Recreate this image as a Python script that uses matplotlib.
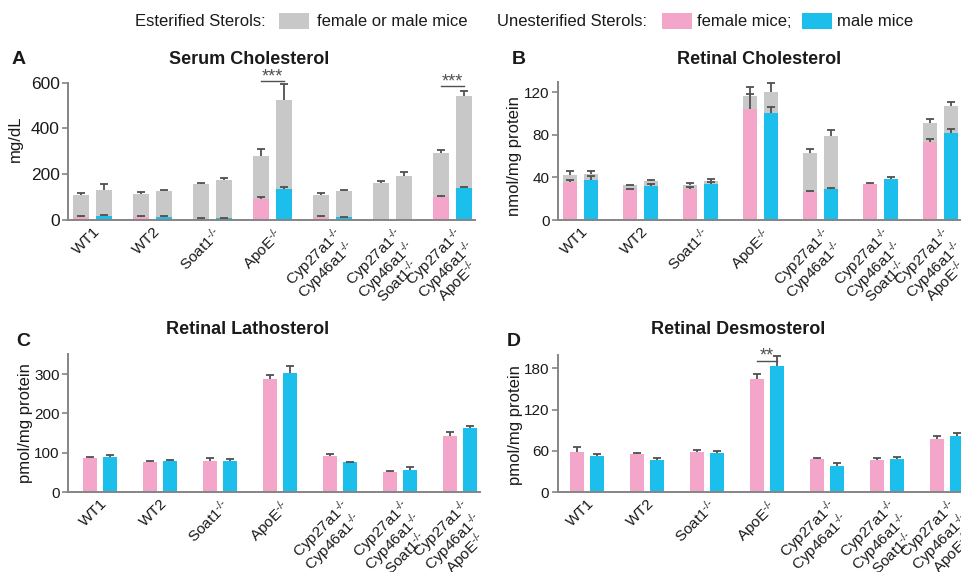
import matplotlib.pyplot as plt
from matplotlib.patches import Rectangle
from matplotlib.transforms import ScaledTranslation
import numpy as np

plt.rcParams['font.family'] = ['Liberation Sans', 'DejaVu Sans']
plt.rcParams['mathtext.fontset'] = 'custom'
plt.rcParams['mathtext.rm'] = 'Liberation Sans'
plt.rcParams['mathtext.it'] = 'Liberation Sans:italic'
plt.rcParams['mathtext.bf'] = 'Liberation Sans:bold'

# colours
C_F = "#F3A6CA"     # female, unesterified
C_M = "#1CBEEB"     # male, unesterified
C_EST = "#C8C8C8"   # esterified
C_ERR = "#505050"
C_AX = "#858585"
C_TXT = "#1a1a1a"

SUP = "$^{\u2010/\u2010}$"
genotypes = ["WT1", "WT2", "Soat1" + SUP, "ApoE" + SUP,
             "Cyp27a1" + SUP + "\nCyp46a1" + SUP,
             "Cyp27a1" + SUP + "\nCyp46a1" + SUP + "\nSoat1" + SUP,
             "Cyp27a1" + SUP + "\nCyp46a1" + SUP + "\nApoE" + SUP]

# ---- A: serum cholesterol (mg/dL) ----
serum_unest_f = np.array([12, 15, 6, 90, 12, 0, 102])
serum_unest_f_err = np.array([4, 3, 3, 12, 4, 0, 3])
serum_est_f = np.array([96, 97, 150, 191, 97, 160, 192])
serum_total_f_err = np.array([9, 10, 6, 28, 8, 12, 12])
serum_unest_m = np.array([17, 15, 7, 134, 12, 0, 141])
serum_unest_m_err = np.array([6, 3, 3, 9, 3, 0, 4])
serum_est_m = np.array([114, 112, 166, 390, 115, 194, 401])
serum_total_m_err = np.array([26, 3, 9, 70, 3, 16, 23])

# ---- B: retinal cholesterol (nmol/mg protein) ----
ret_unest_f = np.array([35.4, 29.0, 29.4, 104.0, 26.6, 33.5, 73.6])
ret_unest_f_err = np.array([2.2, 0.6, 1.6, 14.4, 0.3, 1.0, 2.2])
ret_est_f = np.array([6.6, 3.6, 3.2, 12.5, 36.1, 0.0, 17.2])
ret_total_f_err = np.array([4.0, 0.6, 2.2, 8.2, 3.7, 0.0, 3.8])
ret_unest_m = np.array([38.0, 32.0, 34.2, 100.3, 29.4, 38.5, 82.0])
ret_unest_m_err = np.array([3.5, 1.8, 1.8, 5.7, 0.9, 1.5, 3.2])
ret_est_m = np.array([5.0, 4.6, 2.4, 20.3, 49.6, 0.0, 25.4])
ret_total_m_err = np.array([3.0, 1.4, 1.8, 7.9, 5.3, 0.0, 3.8])

# ---- C: retinal lathosterol (pmol/mg protein) ----
lath_f = np.array([85.7, 77.0, 79.0, 287.5, 91.6, 50.9, 141.6])
lath_f_err = np.array([3.3, 2.7, 6.7, 11.0, 4.3, 2.5, 11.0])
lath_m = np.array([89.0, 79.0, 79.0, 303.6, 76.3, 56.8, 162.0])
lath_m_err = np.array([4.0, 1.5, 6.0, 17.8, 1.0, 5.9, 6.0])

# ---- D: retinal desmosterol (pmol/mg protein) ----
desm_f = np.array([58.7, 54.8, 58.2, 164.0, 48.5, 46.0, 77.6])
desm_f_err = np.array([6.3, 2.4, 3.4, 8.3, 0.5, 4.0, 3.4])
desm_m = np.array([52.4, 46.0, 56.8, 183.0, 38.3, 47.6, 82.0])
desm_m_err = np.array([3.4, 3.5, 3.4, 15.0, 3.4, 2.9, 4.3])

x = np.arange(len(genotypes))

fig = plt.figure(figsize=(9.62, 5.72), dpi=100)
shift = ScaledTranslation(-8 / 72, 0, fig.dpi_scale_trans)


def err_up(ax, xs, tops, errs, cw=0.065):
    keep = errs > 0
    ax.vlines(xs[keep], tops[keep], tops[keep] + errs[keep], color=C_ERR, lw=1.3, zorder=4)
    ax.hlines(tops[keep] + errs[keep], xs[keep] - cw, xs[keep] + cw, color=C_ERR, lw=1.3, zorder=4)


def style_axis(ax, xlim, ylim, yticks, ylabel, ylab_xy, tick_fs):
    ax.set_xlim(*xlim)
    ax.set_ylim(*ylim)
    ax.set_yticks(yticks)
    ax.set_xticks(x)
    ax.set_xticklabels(genotypes, rotation=45, ha='right', va='top', linespacing=0.76,
                       rotation_mode='anchor', multialignment='center', fontsize=11, color=C_TXT)
    for lab in ax.get_xticklabels():
        lab.set_transform(lab.get_transform() + shift)
    for s in ['top', 'right']:
        ax.spines[s].set_visible(False)
    for s in ['left', 'bottom']:
        ax.spines[s].set_color(C_AX)
        ax.spines[s].set_linewidth(1.4)
    ax.tick_params(axis='x', length=0, pad=3)
    ax.tick_params(axis='y', length=4, width=1.2, color=C_AX, labelsize=tick_fs,
                   labelcolor=C_TXT, pad=2)
    ax.set_ylabel(ylabel, fontsize=12, color=C_TXT)
    ax.yaxis.set_label_coords(*ylab_xy)


def sig(ax, x0, x1, y, stars):
    ax.plot([x0, x1], [y, y], color=C_ERR, lw=1.0, clip_on=False)
    ax.annotate(stars, xy=((x0 + x1) / 2, y), xytext=(0, -3), textcoords='offset points',
                ha='center', va='bottom', fontsize=13, color=C_ERR, annotation_clip=False)


# ---------------- A ----------------
axA = fig.add_axes([68 / 962, 1 - 220 / 572, 407 / 962, 137.3 / 572])
w, off = 0.267, 0.19
xf, xm = x - off, x + off
axA.bar(xf, serum_unest_f, w, color=C_F, zorder=2)
axA.bar(xf, serum_est_f, w, bottom=serum_unest_f, color=C_EST, zorder=2)
axA.bar(xm, serum_unest_m, w, color=C_M, zorder=2)
axA.bar(xm, serum_est_m, w, bottom=serum_unest_m, color=C_EST, zorder=2)
err_up(axA, xf, serum_unest_f + serum_est_f, serum_total_f_err)
err_up(axA, xm, serum_unest_m + serum_est_m, serum_total_m_err)
err_up(axA, xf, serum_unest_f.astype(float), serum_unest_f_err)
err_up(axA, xm, serum_unest_m.astype(float), serum_unest_m_err)
style_axis(axA, (-0.408, 6.375), (0, 600), [0, 200, 400, 600], "mg/dL", (-0.11, 0.59), 12.5)
sig(axA, xf[3], xm[3], 607, "***")
sig(axA, xf[6], xm[6], 586, "***")

# ---------------- B ----------------
axB = fig.add_axes([558 / 962, 1 - 220 / 572, 404 / 962, 138.3 / 572])
w, off = 0.233, 0.175
xf, xm = x - off, x + off
axB.bar(xf, ret_unest_f, w, color=C_F, zorder=2)
axB.bar(xf, ret_est_f, w, bottom=ret_unest_f, color=C_EST, zorder=2)
axB.bar(xm, ret_unest_m, w, color=C_M, zorder=2)
axB.bar(xm, ret_est_m, w, bottom=ret_unest_m, color=C_EST, zorder=2)
err_up(axB, xf, ret_unest_f + ret_est_f, ret_total_f_err)
err_up(axB, xm, ret_unest_m + ret_est_m, ret_total_m_err)
err_up(axB, xf, ret_unest_f, ret_unest_f_err)
err_up(axB, xm, ret_unest_m, ret_unest_m_err)
style_axis(axB, (-0.375, 6.36), (0, 130), [0, 40, 80, 120], "nmol/mg protein", (-0.089, 0.46), 11)

# ---------------- C ----------------
axC = fig.add_axes([68 / 962, 1 - 492 / 572, 412 / 962, 137.6 / 572])
w, off = 0.233, 0.1625
xf, xm = x - off, x + off
axC.bar(xf, lath_f, w, color=C_F, zorder=2)
axC.bar(xm, lath_m, w, color=C_M, zorder=2)
err_up(axC, xf, lath_f, lath_f_err)
err_up(axC, xm, lath_m, lath_m_err)
style_axis(axC, (-0.533, 6.333), (0, 350), [0, 100, 200, 300], "pmol/mg protein", (-0.085, 0.5), 11)

# ---------------- D ----------------
axD = fig.add_axes([557.7 / 962, 1 - 492 / 572, 404.3 / 962, 137.4 / 572])
w, off = 0.233, 0.167
xf, xm = x - off, x + off
axD.bar(xf, desm_f, w, color=C_F, zorder=2)
axD.bar(xm, desm_m, w, color=C_M, zorder=2)
err_up(axD, xf, desm_f, desm_f_err)
err_up(axD, xm, desm_m, desm_m_err)
style_axis(axD, (-0.488, 6.25), (0, 200), [0, 60, 120, 180], "pmol/mg protein", (-0.086, 0.49), 11)
sig(axD, xf[3], xm[3], 191, "**")

# ---------------- titles & panel letters ----------------
for tx, ty, t in [(249, 60, "Serum Cholesterol"), (759, 60, "Retinal Cholesterol"),
                  (248, 330, "Retinal Lathosterol"), (738, 330, "Retinal Desmosterol")]:
    fig.text(tx / 962, 1 - ty / 572, t, ha='center', va='center', fontsize=13,
             fontweight='bold', color=C_TXT)
for tx, ty, t in [(12, 60, "A"), (512, 60, "B"), (16, 341, "C"), (507, 341, "D")]:
    fig.text(tx / 962, 1 - ty / 572, t, ha='left', va='center', fontsize=14,
             fontweight='bold', color=C_TXT)

# ---------------- legend ----------------
ly = 1 - 21 / 572
fig.text(135 / 962, ly, "Esterified Sterols:", ha='left', va='center', fontsize=12, color=C_TXT)
fig.text(317 / 962, ly, "female or male mice", ha='left', va='center', fontsize=12, color=C_TXT)
fig.text(497 / 962, ly, "Unesterified Sterols:", ha='left', va='center', fontsize=12, color=C_TXT)
fig.text(697 / 962, ly, "female mice;", ha='left', va='center', fontsize=12, color=C_TXT)
fig.text(837 / 962, ly, "male mice", ha='left', va='center', fontsize=12, color=C_TXT)
for bx, col in [(279, C_EST), (662, C_F), (802, C_M)]:
    fig.add_artist(Rectangle((bx / 962, 1 - 29 / 572), 30 / 962, 16 / 572,
                             transform=fig.transFigure, color=col, lw=0))

fig.savefig("out.png", dpi=100, facecolor='white')
